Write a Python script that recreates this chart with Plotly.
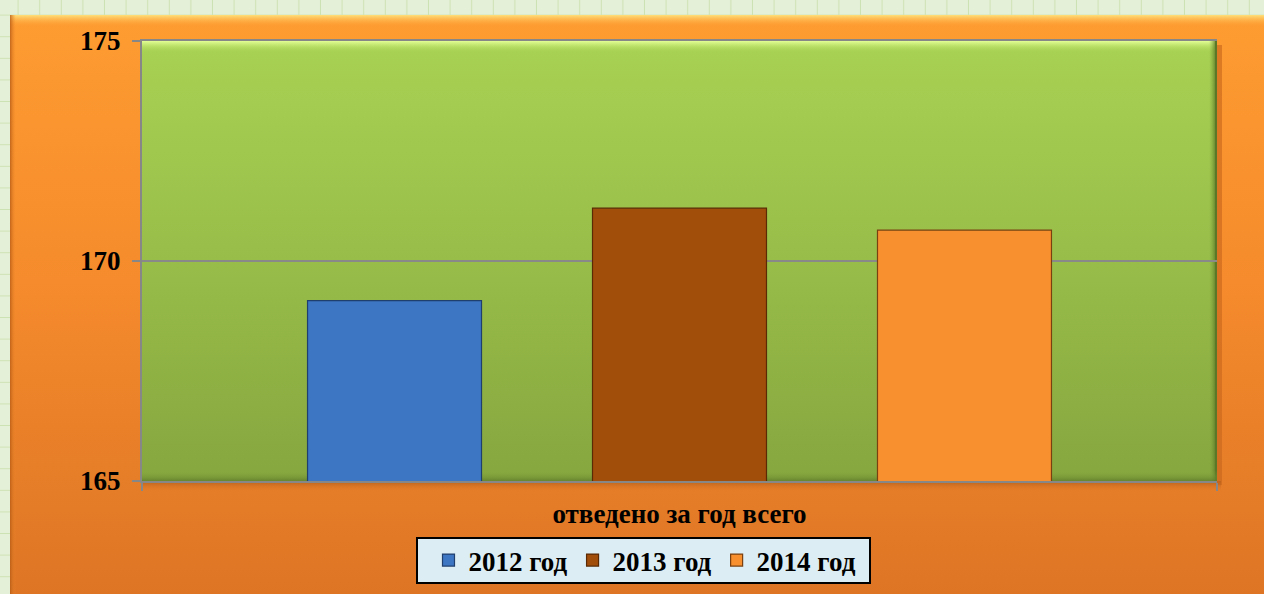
import base64
import plotly.graph_objects as go

# ---- data ----
categories = ["отведено за год всего"]
series_names = ["2012 год", "2013 год", "2014 год"]
values_2012 = [169.1]
values_2013 = [171.2]
values_2014 = [170.7]
y_ticks = [165, 170, 175]

series_values = [values_2012, values_2013, values_2014]
series_colors = ["#3d76c2", "#a24e0b", "#f8902f"]
series_lines = ["#1f3f6e", "#5a2a05", "#7a4010"]

W, H = 1264, 594
L, R, T, B = 142, 1217, 41, 481  # plot area in pixels
LG = (417, 538, 870, 583)          # legend box in pixels

# ---- decorative background (page grid, orange chart area, green plot area, legend box) ----
svg = f'''<svg xmlns="http://www.w3.org/2000/svg" width="{W}" height="{H}" viewBox="0 0 {W} {H}" preserveAspectRatio="none">
<defs>
<pattern id="grid" width="21.6" height="21.6" patternUnits="userSpaceOnUse" x="-3" y="-6">
<rect width="21.6" height="21.6" fill="#e5f0d8"/>
<path d="M21.6 0 V21.6 M0 21.6 H21.6" stroke="#cde2b3" stroke-width="2" fill="none"/>
</pattern>
<linearGradient id="org" x1="0" y1="0" x2="0" y2="1">
<stop offset="0" stop-color="#fe9c31"/>
<stop offset="0.45" stop-color="#f58b2c"/>
<stop offset="1" stop-color="#dc7425"/>
</linearGradient>
<linearGradient id="orgTop" x1="0" y1="0" x2="0" y2="1">
<stop offset="0" stop-color="#ffe07a"/>
<stop offset="1" stop-color="#fe9c31" stop-opacity="0"/>
</linearGradient>
<linearGradient id="orgLeft" x1="0" y1="0" x2="1" y2="0">
<stop offset="0" stop-color="#b45a15" stop-opacity="0.8"/>
<stop offset="1" stop-color="#f58b2c" stop-opacity="0"/>
</linearGradient>
<linearGradient id="grn" x1="0" y1="0" x2="0" y2="1">
<stop offset="0" stop-color="#a8d253"/>
<stop offset="0.5" stop-color="#98bd49"/>
<stop offset="1" stop-color="#86a63f"/>
</linearGradient>
<linearGradient id="grnTop" x1="0" y1="0" x2="0" y2="1">
<stop offset="0" stop-color="#e4ff96"/>
<stop offset="1" stop-color="#a8d253" stop-opacity="0"/>
</linearGradient>
<linearGradient id="grnRight" x1="1" y1="0" x2="0" y2="0">
<stop offset="0" stop-color="#4f6c20"/>
<stop offset="1" stop-color="#86a63f" stop-opacity="0"/>
</linearGradient>
<linearGradient id="grnBot" x1="0" y1="1" x2="0" y2="0">
<stop offset="0" stop-color="#5f7d2a" stop-opacity="0.8"/>
<stop offset="1" stop-color="#86a63f" stop-opacity="0"/>
</linearGradient>
<linearGradient id="shadow" x1="0" y1="0" x2="0" y2="1">
<stop offset="0" stop-color="#8a4a10" stop-opacity="0.55"/>
<stop offset="1" stop-color="#dc7425" stop-opacity="0"/>
</linearGradient>
</defs>
<rect x="0" y="0" width="{W}" height="{H}" fill="url(#grid)"/>
<rect x="10" y="15" width="{W}" height="{H}" fill="url(#org)"/>
<rect x="10" y="15" width="{W}" height="12" fill="url(#orgTop)"/>
<rect x="10" y="15" width="6" height="{H}" fill="url(#orgLeft)"/>
<rect x="{L}" y="{B}" width="{R-L+4}" height="10" fill="url(#shadow)"/>
<rect x="{R}" y="{T+4}" width="5" height="{B-T}" fill="#c7661c" opacity="0.6"/>
<rect x="{L}" y="{T}" width="{R-L}" height="{B-T}" fill="url(#grn)"/>
<rect x="{L}" y="{T}" width="{R-L}" height="12" fill="url(#grnTop)"/>
<rect x="{R-8}" y="{T}" width="8" height="{B-T}" fill="url(#grnRight)"/>
<rect x="{R-2}" y="{T}" width="2" height="{B-T}" fill="#5a7828"/>
<rect x="{L}" y="{B-10}" width="{R-L}" height="10" fill="url(#grnBot)"/>
<rect x="{LG[0]}" y="{LG[1]}" width="{LG[2]-LG[0]}" height="{LG[3]-LG[1]}" fill="#dcedf3" stroke="#000000" stroke-width="2"/>
</svg>'''
src = "data:image/svg+xml;base64," + base64.b64encode(svg.encode("utf-8")).decode("ascii")

pw, ph = R - L, B - T

fig = go.Figure()
for name, vals, col, lc in zip(series_names, series_values, series_colors, series_lines):
    fig.add_trace(go.Bar(
        name=name, x=categories, y=vals,
        marker=dict(color=col, line=dict(color=lc, width=1.2)),
    ))

font_fam = "Liberation Serif, Times New Roman, serif"

fig.update_layout(
    width=W, height=H,
    autosize=False,
    margin=dict(l=L, r=W - R, t=T, b=H - B, pad=0),
    paper_bgcolor="#e5f0d8",
    plot_bgcolor="rgba(0,0,0,0)",
    barmode="group",
    bargap=0.2047,
    bargroupgap=0.3895,
    font=dict(family=font_fam, color="#000000", size=27),
    showlegend=True,
    legend=dict(
        orientation="h",
        xref="paper", yref="container",
        x=(645 - L) / pw, xanchor="center",
        y=1 - (LG[1] + LG[3]) / 2 / H, yanchor="middle",
        bgcolor="rgba(0,0,0,0)",
        borderwidth=0,
        font=dict(family=font_fam, size=27, color="#000000", weight="bold"),
        itemwidth=30,
        traceorder="normal",
    ),
    images=[dict(
        source=src, xref="paper", yref="paper",
        x=-L / pw, y=B / ph, sizex=W / pw, sizey=H / ph,
        xanchor="left", yanchor="top", sizing="stretch", layer="below",
    )],
)

fig.update_xaxes(
    type="category",
    automargin=False,
    showgrid=False,
    showline=True, linecolor="#878787", linewidth=2, mirror=True,
    ticks="outside", ticklen=8, tickwidth=2, tickcolor="#878787",
    tickson="boundaries",
    ticklabelstandoff=8,
    tickfont=dict(family=font_fam, size=27, color="#000000", weight="bold"),
)
fig.update_yaxes(
    range=[y_ticks[0], y_ticks[-1]],
    automargin=False,
    tickvals=y_ticks,
    ticktext=[str(v) for v in y_ticks],
    showgrid=True, gridcolor="#898989", gridwidth=2,
    showline=True, linecolor="#878787", linewidth=2, mirror=False,
    ticks="outside", ticklen=8, tickwidth=2, tickcolor="#878787",
    ticklabelstandoff=6,
    zeroline=False,
    tickfont=dict(family=font_fam, size=27, color="#000000", weight="bold"),
)

post = (
    "document.documentElement.style.margin='0';"
    "document.documentElement.style.padding='0';"
    "document.documentElement.style.overflow='hidden';"
    "document.body.style.margin='0';"
    "document.body.style.padding='0';"
    "document.body.style.overflow='hidden';"
)
fig.write_html(
    "out.html",
    post_script=post,
    config={"displayModeBar": False, "responsive": False},
)
